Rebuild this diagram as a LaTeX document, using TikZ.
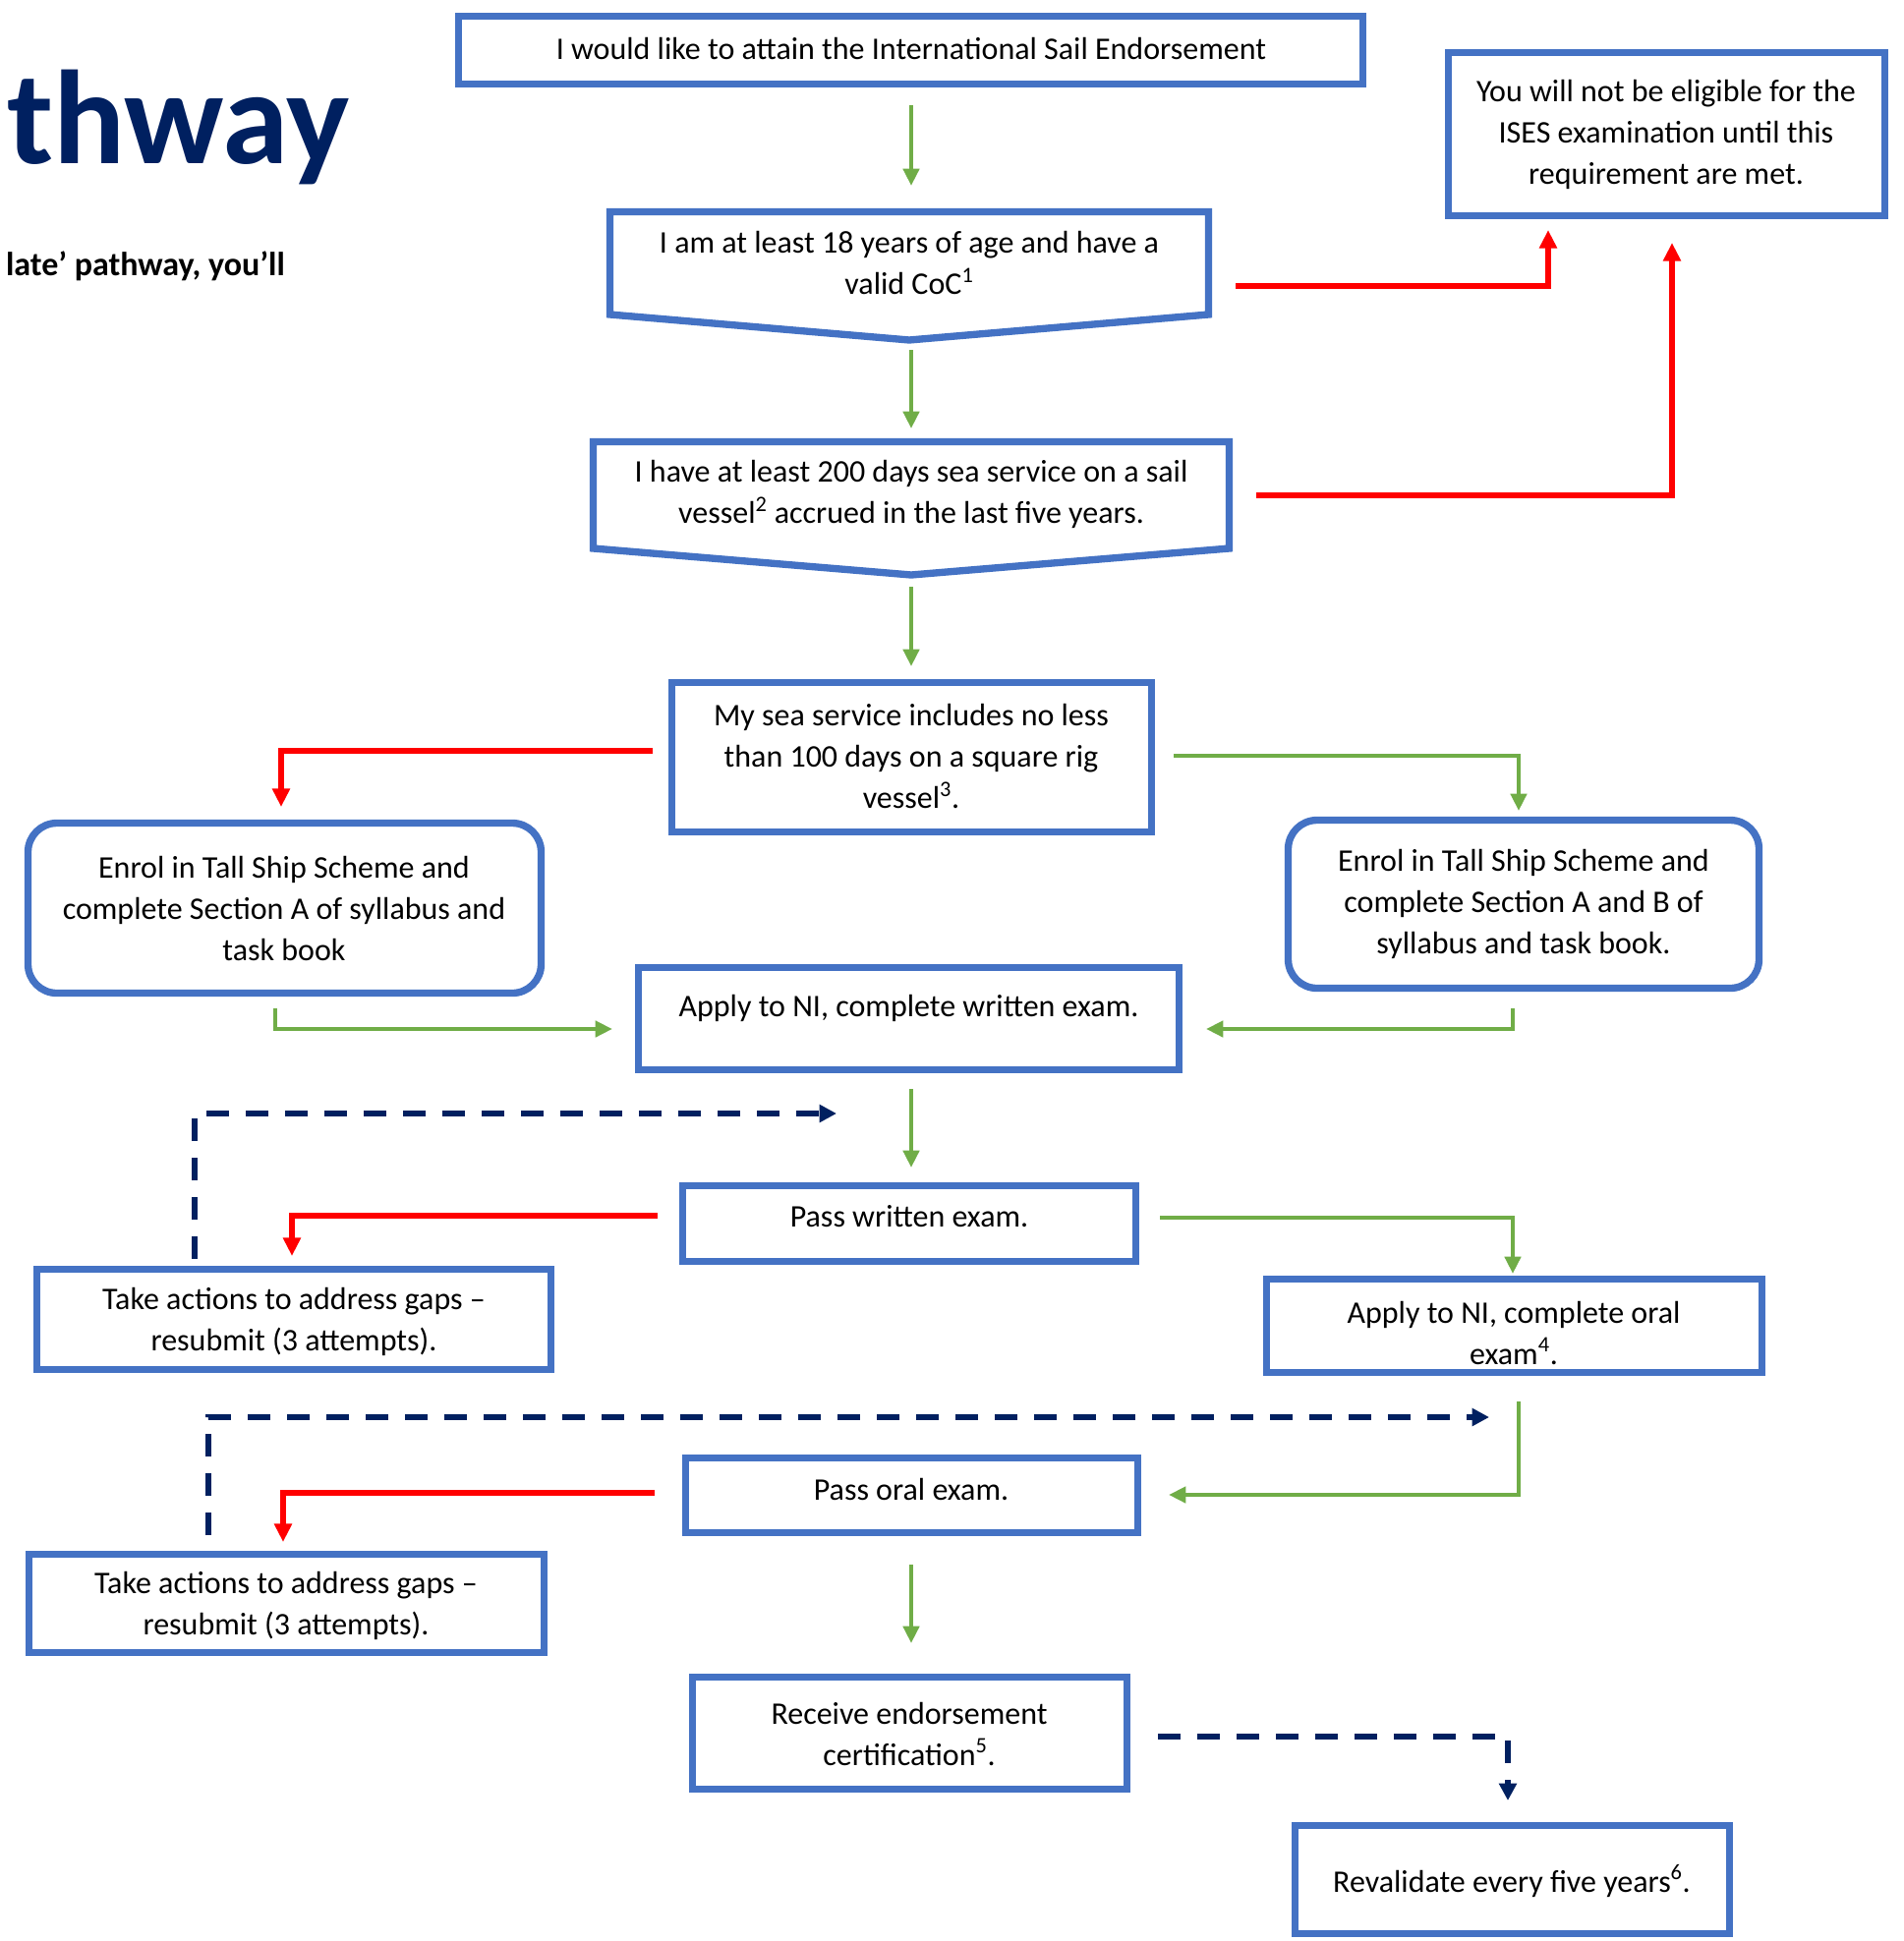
\documentclass[tikz,border=0pt]{standalone}
\usepackage{fontspec}
\setmainfont{Carlito}
\usetikzlibrary{arrows.meta,fit}
\definecolor{boxblue}{HTML}{4472C4}
\definecolor{grn}{HTML}{70AD47}
\definecolor{rd}{HTML}{FF0000}
\definecolor{navy}{HTML}{002060}
\begin{document}
\begin{tikzpicture}[x=0.75pt,y=-0.75pt, line join=miter,
  box/.style={draw=boxblue, line width=5.5pt, inner sep=0pt},
  rbox/.style={box, rounded corners=22pt},
  boxline/.style={draw=boxblue, line width=5.5pt},
  txt/.style={align=center, inner sep=0pt, font=\fontsize{24}{31.5}\selectfont},
  garr/.style={draw=grn, line width=3.5pt, -{Triangle[length=13pt,width=12pt]}},
  rarr/.style={draw=rd, line width=4pt, -{Triangle[length=14pt,width=13pt]}},
  narr/.style={draw=navy, line width=4pt, dash pattern=on 17pt off 13pt, -{Triangle[length=13pt,width=13pt]}}]
\useasboundingbox (0,0) rectangle (1937,1975);
\fill[white] (0,0) rectangle (1937,1975);

% title texts
\node[anchor=base east, inner sep=0pt, text=navy, font=\fontsize{102}{102}\selectfont\bfseries] (title) at (356,166) {thway};
\node[anchor=base east, inner sep=0pt, font=\fontsize{25.5}{30}\selectfont\bfseries] (sub) at (290,280) {late’ pathway, you’ll};

% boxes
\node[box, fit={(466.5,16.5) (1386.5,85.5)}] (A) {};
\node[txt] (At) at (927,50) {I would like to attain the International Sail Endorsement};

\draw[boxline] (620.5,215.5) -- (1229.5,215.5) -- (1229.5,320) -- (925,346) -- (620.5,320) -- cycle;
\node[txt] (B) at (925,267.5) {I am at least 18 years of age and have a\\valid CoC\textsuperscript{1}};

\draw[boxline] (603.5,449.5) -- (1250.5,449.5) -- (1250.5,558) -- (927,585) -- (603.5,558) -- cycle;
\node[txt] (C) at (927,503) {I have at least 200 days sea service on a sail\\vessel\textsuperscript{2} accrued in the last five years.};

\node[box, fit={(683.5,694.5) (1171.5,846.5)}] (D) {};
\node[txt] (Dt) at (927,770) {My sea service includes no less\\than 100 days on a square rig\\vessel\textsuperscript{3}.};

\node[box, fit={(1473.5,53.5) (1917.5,219.5)}] (E) {};
\node[txt] (Et) at (1695,136.5) {You will not be eligible for the\\ISES examination until this\\requirement are met.};

\node[rbox, fit={(28.5,837.5) (550.5,1010.5)}] (F) {};
\node[txt] (Ft) at (289,924) {Enrol in Tall Ship Scheme and\\complete Section A of syllabus and\\task book};

\node[rbox, fit={(1310.5,834.5) (1789.5,1005.5)}] (G) {};
\node[txt] (Gt) at (1550,920) {Enrol in Tall Ship Scheme and\\complete Section A and B of\\syllabus and task book.};

\node[box, fit={(649.5,984.5) (1199.5,1088.5)}] (H) {};
\node[txt] (Ht) at (924.5,1026) {Apply to NI, complete written exam.};

\node[box, fit={(694.5,1206.5) (1155.5,1283.5)}] (I) {};
\node[txt] (It) at (925,1238) {Pass written exam.};

\node[box, fit={(37.5,1291.5) (560.5,1393.5)}] (J) {};
\node[txt] (Jt) at (299,1344.5) {Take actions to address gaps –\\resubmit (3 attempts).};

\node[box, fit={(1288.5,1301.5) (1792.5,1396.5)}] (K) {};
\node[txt] (Kt) at (1540,1356) {Apply to NI, complete oral\\exam\textsuperscript{4}.};

\node[box, fit={(697.5,1483.5) (1157.5,1559.5)}] (L) {};
\node[txt] (Lt) at (927,1515) {Pass oral exam.};

\node[box, fit={(29.5,1581.5) (553.5,1681.5)}] (M) {};
\node[txt] (Mt) at (291,1634) {Take actions to address gaps –\\resubmit (3 attempts).};

\node[box, fit={(704.5,1706.5) (1146.5,1820.5)}] (N) {};
\node[txt] (Nt) at (925,1764) {Receive endorsement\\certification\textsuperscript{5}.};

\node[box, fit={(1317.5,1857.5) (1759.5,1967.5)}] (O) {};
\node[txt] (Ot) at (1538,1914) {Revalidate every five years\textsuperscript{6}.};

% connectors
\draw[garr] (927,107) -- (927,189);
\draw[garr] (927,356) -- (927,436);
\draw[garr] (927,597) -- (927,678);
\draw[rarr] (1257,291) -- (1575,291) -- (1575,234);
\draw[rarr] (1278,504) -- (1701,504) -- (1701,247);
\draw[rarr] (664,764) -- (286,764) -- (286,821);
\draw[garr] (1194,769) -- (1545,769) -- (1545,825);
\draw[garr] (280,1026) -- (280,1047) -- (623,1047);
\draw[garr] (1539,1026) -- (1539,1047) -- (1227,1047);
\draw[garr] (927,1108) -- (927,1188);
\draw[narr] (198,1281) -- (198,1133) -- (851,1133);
\draw[rarr] (669,1237) -- (297,1237) -- (297,1278);
\draw[garr] (1180,1239) -- (1539,1239) -- (1539,1296);
\draw[narr] (212,1562) -- (212,1442) -- (1515,1442);
\draw[garr] (1545,1426) -- (1545,1521) -- (1189,1521);
\draw[rarr] (666,1519) -- (288,1519) -- (288,1569);
\draw[garr] (927,1592) -- (927,1672);
\draw[narr] (1178,1767) -- (1534,1767) -- (1534,1832);
\end{tikzpicture}
\end{document}
